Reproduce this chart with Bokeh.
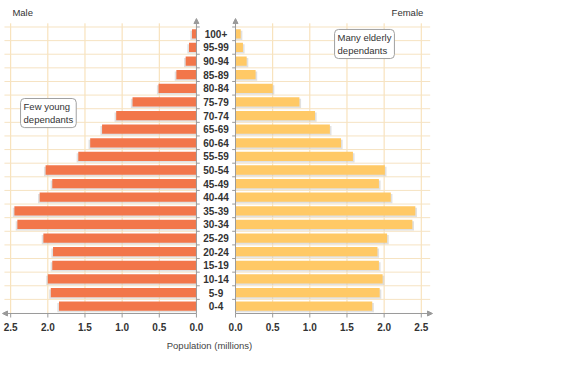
from bokeh.plotting import figure
from bokeh.models import ColumnDataSource, Label, Arrow, NormalHead, Range1d
from bokeh.core.properties import value
from bokeh.embed import file_html
from bokeh.resources import INLINE

# ---------------- data ----------------
age_groups = ["0-4", "5-9", "10-14", "15-19", "20-24", "25-29", "30-34", "35-39",
              "40-44", "45-49", "50-54", "55-59", "60-64", "65-69", "70-74",
              "75-79", "80-84", "85-89", "90-94", "95-99", "100+"]
male = [1.85, 1.96, 2.00, 1.94, 1.93, 2.06, 2.41, 2.45, 2.11, 1.94, 2.03,
        1.59, 1.43, 1.27, 1.08, 0.86, 0.51, 0.27, 0.145, 0.10, 0.06]
female = [1.84, 1.94, 1.98, 1.93, 1.91, 2.04, 2.38, 2.42, 2.09, 1.93, 2.01,
          1.58, 1.42, 1.27, 1.07, 0.86, 0.50, 0.27, 0.15, 0.10, 0.07]
tick_values = [0.0, 0.5, 1.0, 1.5, 2.0, 2.5]
tick_labels = ["0.0", "0.5", "1.0", "1.5", "2.0", "2.5"]
grid_values = [0.5, 1.0, 1.5, 2.0, 2.5]

# ---------------- layout constants ----------------
OFF = 0.263          # half gap between the two panels (data units)
BAR_H = 0.68
FONT = "Liberation Sans"
MALE_C = "#F2764A"
FEMALE_C = "#FFC966"
GRID_C = "#F6E3C2"
VGRID_C = "#F7DDB0"
AXIS_C = "#9A9A9A"
TEXT_C = "#333333"

n = len(age_groups)
ys = list(range(n))

p = figure(width=565, height=360, output_backend="svg", toolbar_location=None,
           x_axis_type=None, y_axis_type=None,
           x_range=Range1d(-2.900, 4.704), y_range=Range1d(-3.987, 22.445),
           min_border_left=0, min_border_right=0, min_border_top=0, min_border_bottom=0,
           outline_line_color=None, background_fill_color="white", border_fill_color="white")
p.grid.visible = False

# ---------------- grid ----------------
Y_AX = -0.536
Y_GRID_TOP = 20.77
for v in grid_values:
    p.segment(x0=[-(OFF + v), OFF + v], y0=[Y_AX, Y_AX], x1=[-(OFF + v), OFF + v],
              y1=[Y_GRID_TOP, Y_GRID_TOP], line_color=VGRID_C, line_width=1)
hy = [i + 0.5 for i in range(n)]
p.segment(x0=[-2.847] * n, y0=hy, x1=[-OFF] * n, y1=hy, line_color=GRID_C, line_width=1)
p.segment(x0=[OFF] * n, y0=hy, x1=[OFF + 2.62] * n, y1=hy, line_color=GRID_C, line_width=1)
# small ticks on the vertical axes
p.segment(x0=[-OFF] * n, y0=hy, x1=[-OFF + 0.045] * n, y1=hy, line_color=AXIS_C, line_width=1)
p.segment(x0=[OFF] * n, y0=hy, x1=[OFF - 0.045] * n, y1=hy, line_color=AXIS_C, line_width=1)

# ---------------- bars ----------------
msrc = ColumnDataSource(dict(y=ys, left=[-(OFF + v) for v in male], right=[-OFF] * n,
                             sy=[y - 0.11 for y in ys],
                             sleft=[-(OFF + v) - 0.022 for v in male]))
fsrc = ColumnDataSource(dict(y=ys, left=[OFF] * n, right=[OFF + v for v in female],
                             sy=[y - 0.11 for y in ys],
                             sright=[OFF + v + 0.022 for v in female]))
p.hbar(y="sy", left="sleft", right="right", height=BAR_H, source=msrc,
       fill_color="#C8C8C8", fill_alpha=0.55, line_color=None)
p.hbar(y="sy", left="left", right="sright", height=BAR_H, source=fsrc,
       fill_color="#C8C8C8", fill_alpha=0.55, line_color=None)
p.hbar(y="y", left="left", right="right", height=BAR_H, source=msrc,
       fill_color=MALE_C, line_color=None)
p.hbar(y="y", left="left", right="right", height=BAR_H, source=fsrc,
       fill_color=FEMALE_C, line_color=None)

# ---------------- category labels ----------------
p.text(x=[0.0] * n, y=ys, text=age_groups, text_align="center", text_baseline="middle",
       text_font=value(FONT), text_font_size="10px",
       text_font_style="bold", text_color=TEXT_C)

# ---------------- axes lines with arrows ----------------
head = dict(size=5, line_color=AXIS_C, line_width=1, fill_color=AXIS_C)
p.add_layout(Arrow(x_start=-OFF, y_start=Y_AX, x_end=-2.873, y_end=Y_AX,
                   end=NormalHead(**head), line_color=AXIS_C, line_width=1))
p.add_layout(Arrow(x_start=OFF, y_start=Y_AX, x_end=2.914, y_end=Y_AX,
                   end=NormalHead(**head), line_color=AXIS_C, line_width=1))
p.add_layout(Arrow(x_start=-OFF, y_start=Y_AX, x_end=-OFF, y_end=21.12,
                   end=NormalHead(**head), line_color=AXIS_C, line_width=1))
p.add_layout(Arrow(x_start=OFF, y_start=Y_AX, x_end=OFF, y_end=21.12,
                   end=NormalHead(**head), line_color=AXIS_C, line_width=1))

# ---------------- bottom ticks and tick labels ----------------
tx = [-(OFF + v) for v in tick_values] + [OFF + v for v in tick_values]
tl = tick_labels + tick_labels
Y_TICK_END = -0.83
Y_TICK_LABEL = -1.527
p.segment(x0=tx, y0=[Y_AX] * len(tx), x1=tx, y1=[Y_TICK_END] * len(tx),
          line_color=AXIS_C, line_width=1)
p.text(x=tx, y=[Y_TICK_LABEL] * len(tx), text=tl, text_align="center", text_baseline="middle",
       text_font=value(FONT), text_font_size="10px", text_font_style="bold", text_color=TEXT_C)

# ---------------- texts ----------------
p.add_layout(Label(x=-0.087, y=-2.885, text="Population (millions)", text_align="center",
                   text_baseline="middle", text_font=FONT, text_font_size="9.5px",
                   text_color="#444444"))
p.add_layout(Label(x=-2.74, y=21.56, text="Male", text_align="left", text_baseline="middle",
                   text_font=FONT, text_font_size="9.5px", text_color=TEXT_C))
p.add_layout(Label(x=2.79, y=21.56, text="Female", text_align="right", text_baseline="middle",
                   text_font=FONT, text_font_size="9.5px", text_color=TEXT_C))

def callout(x, y, txt):
    common = dict(x=x, y=y, text=txt, text_align="left", text_baseline="top",
                  text_font=FONT, text_font_size="9.5px", text_line_height=1.1,
                  padding=3, border_radius=4)
    p.add_layout(Label(x_offset=2, y_offset=-2, text_alpha=0.0, background_fill_color="#BBBBBB",
                       background_fill_alpha=0.6, border_line_color=None, **common))
    p.add_layout(Label(text_color=TEXT_C, background_fill_color="white",
                       border_line_color="#A0A0A0", border_line_width=1, **common))

callout(-2.63, 15.25, "Few young\ndependants")
callout(1.596, 20.32, "Many elderly\ndependants")

open("out.html", "w").write(file_html(p, INLINE))
